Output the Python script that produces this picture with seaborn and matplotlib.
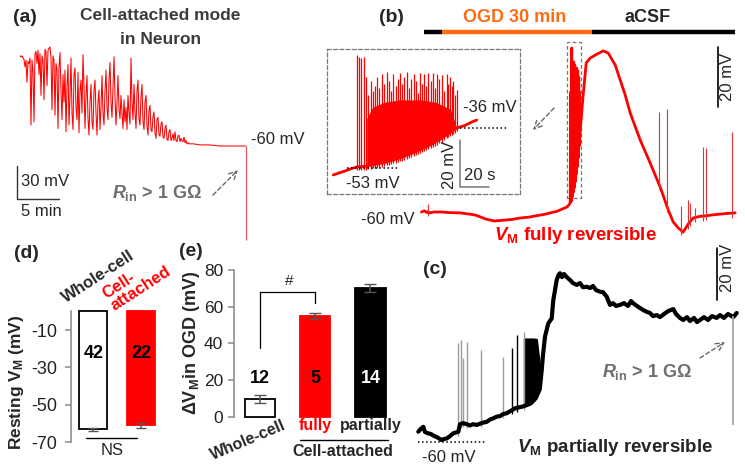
import numpy as np
import matplotlib
matplotlib.use("Agg")
import matplotlib.pyplot as plt
from matplotlib.patches import Rectangle
import seaborn as sns

# ---- panel (a): cell-attached trace, sampled every A_DT min (mV)
A_DT = 0.12
A_V = [22, 21, 22, 20, 19, 12, 18, -2, 17, 15, 20, -41, 18, 8, -38, 24, 26, 15, 27, 5,
       24, -14, 22, 18, -18, 28, 26, -5, 27, 29, 30, 20, -27, 22, 18, -32, 15, 10, -44, 12,
       25, -10, -36, 5, -20, 9, -47, -5, 14, -41, -15, 20, -30, -45, 5, 11, -25, -36, 7, -48,
       -10, 0, -30, 23, -5, -44, -15, 4, -35, -50, -20, -4, -38, -45, -10, 0, -30, -50, -20, -9,
       -45, -25, 4, -30, -41, -10, 9, -25, -36, 0, 16, -20, -34, -5, 21, -15, -41, -20, 4, -27,
       -35, -14, -30, -44, -18, -38, -25, -45, -14, -30, -40, 20, -20, -36, -4, -30, -44, -10, 0, -35,
       -41, -15, -4, -38, -45, -20, -14, -42, -50, -28, -23, -45, -47, -33, -29, -48, -53, -36, -34, -50,
       -51, -40, -38, -52, -53, -44, -41, -54, -55, -47, -45, -55, -53, -49, -55, -47, -55, -56, -51, -50,
       -56, -53, -55, -56, -52, -57, -55, -58, -57, -58]
A_TAIL_T = [20.8, 21.6, 22.8, 24.0, 25.2, 27.1]
A_TAIL_V = [-58, -59, -59, -60, -60, -60]
A_DROP = (27.1, -60, -145)

# ---- panel (b): fully reversible trace (min from OGD onset, mV)
B_T = [-4.06, -3.5, -2.9, -2.7, -2.5, -1.5, 0.0, 1.5, 3.7, 5.5, 6.7, 8.0, 8.7, 10.5, 12.7, 14.0, 15.7, 17.5,
       18.7, 20.5, 21.7, 23.0, 23.7, 25.1, 25.7, 25.8, 25.9, 26.0, 26.1, 26.2, 26.3, 26.4, 26.5, 26.6, 26.7,
       26.8, 26.9, 27.0, 27.1, 27.2, 27.3, 27.4, 27.5, 27.55, 27.6, 27.7, 28.3, 28.9, 29.7, 30.7, 31.5, 32.3,
       33.3, 34.7, 35.7, 36.7, 37.7, 39.7, 41.7, 43.7, 45.3, 46.3, 47.3, 48.3, 49.3, 50.3, 51.5, 52.7, 54.0,
       55.7, 57.0, 58.7]
B_V = [-60.0, -59.6, -60.2, -59.8, -60.3, -60.0, -60.0, -60.2, -60.3, -60.7, -61.0, -61.8, -62.3, -63.0,
       -62.7, -62.5, -62.0, -61.7, -61.3, -60.8, -60.3, -59.8, -59.3, -58.3, -57.0, -20.0, -56.5, -5.3,
       -55.0, -12.0, -53.5, -10.0, -52.0, -11.0, -50.0, -12.0, -47.5, -12.0, -45.0, -13.0, -42.0, -15.0,
       -38.0, -20.0, -35.0, -32.7, -21.0, -10.3, -8.7, -7.7, -7.0, -6.3, -7.0, -11.0, -16.0, -21.0, -27.0,
       -36.0, -43.7, -51.7, -59.3, -63.3, -65.3, -66.7, -64.0, -62.0, -61.5, -61.3, -61.0, -60.7, -60.5, -60.3]
B_SPK_T = [-2.7, 43.5, 45.1, 47.9, 49.3, 49.7, 50.6, 52.3, 52.9, 58.1]
B_SPK_TOP = [-57.3, -26.7, -25.7, -58.0, -56.0, -57.0, -58.5, -38.3, -38.7, -33.3]
BAR_START = [-3.54, 0.0, 30.0]
BAR_END = [0.0, 30.0, 58.66]
BAR_COL = ["black", "#ff6a13", "black"]

# ---- inset of (b): burst at onset (s, mV)
I_T = [0.0, 4.6, 8.0, 11.4, 16.0, 19.6, 22.8, 35.0, 45.6, 55.0, 66.0, 75.0, 84.3, 90.0, 94.7, 98.0]
I_V = [-56.1, -55.1, -54.4, -53.6, -52.7, -52.5, -52.3, -50.8, -48.8, -46.5, -43.3, -40.0, -36.0, -34.9, -33.4, -32.6]
IB_T = [22.8, 27.0, 35.0, 45.0, 60.0, 70.0, 80.0, 84.3]
IB_HI = [-32, -27, -25, -24, -24, -25, -28, -36]
IS_T = [16.3, 17.8, 19.1, 21.0, 22.5, 24.0, 25.5, 27.0, 28.3, 29.6, 31.0, 33.0, 34.5, 36.5, 38.0, 39.5,
        41.0, 42.5, 44.0, 45.6, 47.0, 48.5, 50.1, 51.5, 53.0, 55.0, 56.5, 58.0, 59.2, 60.5, 62.0, 63.5,
        64.9, 66.5, 68.0, 69.3, 70.6, 72.0, 74.0, 75.5, 77.4, 78.5, 79.7, 81.0, 82.0, 83.0, 84.3]
IS_TOP = [-4.8, -5.5, -6.2, -5.5, -14, -22, -16, -20, -18, -14, -19, -13, -17, -11.9, -16, -20,
          -13, -18, -15, -12.3, -17, -14, -11.9, -19, -15, -13, -16, -21, -12.3, -17, -13, -18,
          -12.3, -16, -12.5, -19, -12.8, -15, -13.5, -20, -12.8, -17, -14, -18, -16, -22, -19.7]

# ---- panel (c): partially reversible trace (min, mV)
C_T = [0.0, 0.44, 1.0, 1.34, 1.94, 2.54, 3.0, 3.74, 4.68, 5.14, 5.68, 6.34, 7.0, 7.54, 8.0, 8.34, 8.94, 9.68,
       10.34, 10.94, 11.68, 12.34, 12.94, 13.68, 14.34, 14.94, 15.68, 16.34, 16.94, 17.68, 18.34, 18.94, 19.34,
       19.94, 20.68, 21.5, 22.5, 23.5, 24.3,
       24.68, 24.94, 25.34, 26.0, 26.68, 27.0, 27.34, 27.68, 28.04, 28.34, 28.74, 29.14, 29.68, 30.34, 30.94,
       31.68, 32.34, 32.94, 33.68, 34.34, 34.94, 35.54, 36.34, 36.94, 37.68, 37.94, 38.34, 38.94, 39.54, 40.34,
       41.14, 41.94, 42.54, 43.0, 43.74, 44.34, 45.0, 45.74, 46.34, 46.94, 47.68, 48.34, 49.14, 49.94, 51.0,
       51.54, 52.34, 53.0, 53.74, 54.34, 55.14, 55.74, 56.34, 57.14, 57.94, 58.74, 59.68, 60.34, 61.14, 61.94,
       63.0, 63.68]
C_V = [-56.4, -55.4, -54.5, -56.5, -57.0, -57.3, -57.9, -58.5, -59.6, -59.2, -59.0, -58.1, -57.0, -56.7, -56.4,
       -53.5, -53.1, -53.5, -54.0, -53.5, -53.8, -53.3, -52.9, -52.6, -51.7, -51.3, -50.6, -50.4, -49.6, -49.3,
       -48.5, -47.9, -47.4, -47.1, -46.8, -46.3, -45.5, -43.5, -40.0,
       -32.7, -26.9, -19.8, -14.7, -12.8, -5.7, -1.9, 2.0, 3.9, 4.6, 3.1, 4.3, 3.1, 2.0, 0.8, 0.1, 0.8, -0.8,
       -0.6, -1.1, -0.3, -1.9, -2.5, -2.7, -4.4, -5.7, -7.6, -6.9, -8.0, -7.6, -6.9, -8.0, -6.1, -7.0, -8.0,
       -8.8, -9.6, -10.3, -10.7, -11.9, -11.5, -12.3, -11.1, -10.0, -9.2, -11.1, -12.6, -13.4, -12.3, -13.8,
       -12.6, -14.2, -13.4, -12.3, -13.4, -11.9, -12.6, -11.5, -12.6, -11.1, -12.3, -10.7]
CB_T = [21.0, 22.0, 23.0, 23.8, 24.4]
CB_LO = [-46.7, -46.0, -44.5, -42.0, -38.0]
CB_HI = [-20.3, -20.3, -20.3, -20.5, -30.0]
C_SPK_T = [8.0, 8.48, 8.88, 9.68, 12.54, 16.88, 21.14]
C_SPK_TOP = [-22.4, -21.1, -28.2, -21.8, -25.0, -27.5, -17.9]
C_SPK2_T = [18.68, 19.68]
C_SPK2_TOP = [-24.3, -19.2]
C_DROP = (63.0, -12.0, -53.8)

# ---- panel (d) and (e) bars
D_CATS = ["Whole-cell", "Cell-attached"]
D_MEAN = [-63.0, -61.0]
D_SEM = [0.8, 1.2]
D_N = ["42", "22"]
E_CATS = ["Whole-cell", "fully", "partially"]
E_MEAN = [9.7, 54.8, 70.2]
E_SEM = [2.4, 1.6, 2.0]
E_N = ["12", "5", "14"]

RED = "#ff0000"
ORANGE = "#ff6a13"
GRAY = "#6e6e6e"

sns.set_style("white")
plt.rcParams["font.family"] = ["Liberation Sans", "DejaVu Sans"]
plt.rcParams["axes.unicode_minus"] = False
plt.rcParams["mathtext.fontset"] = "custom"
plt.rcParams["mathtext.rm"] = "Liberation Sans:bold"
plt.rcParams["mathtext.bf"] = "Liberation Sans:bold"
plt.rcParams["mathtext.it"] = "Liberation Sans:italic:bold"

W, H = 745, 472
fig = plt.figure(figsize=(7.45, 4.72), dpi=100)


def px_axes(x0, y0, x1, y1, xlim, ylim):
    ax = fig.add_axes([x0 / W, 1 - y1 / H, (x1 - x0) / W, (y1 - y0) / H])
    ax.set_xlim(*xlim)
    ax.set_ylim(*ylim)
    ax.patch.set_alpha(0)
    return ax


def bare(ax):
    ax.set_xticks([])
    ax.set_yticks([])
    for s in ax.spines.values():
        s.set_visible(False)
    ax.set_xlabel("")
    ax.set_ylabel("")


def spikes(ax, t, top, trace_t, trace_v, color, lw):
    base = np.interp(t, trace_t, trace_v) - 1.5
    ax.vlines(t, base, top, color=color, lw=lw)


# (a)
a_t = list(np.arange(len(A_V)) * A_DT) + A_TAIL_T
a_v = A_V + A_TAIL_V
axa = px_axes(15, 40, 250, 245, (-0.6, 27.6), (-150, 36.4))
sns.lineplot(x=a_t, y=a_v, ax=axa, color=RED, linewidth=0.75, estimator=None, sort=False)
axa.vlines(A_DROP[0], A_DROP[2], A_DROP[1], color="#e05a5a", lw=0.9)
axa.plot([-0.33, -0.33, 4.67], [-78, -108.5, -108.5], color="#333", lw=1.0)
bare(axa)

# (b)
axb = px_axes(415, 0, 745, 245, (-5.34, 60.66), (-71, 10.67))
sns.lineplot(x=B_T, y=B_V, ax=axb, color=RED, linewidth=2.0, estimator=None, sort=False)
spikes(axb, B_SPK_T, B_SPK_TOP, B_T, B_V, "#e83030", 0.8)
axb.hlines([0, 0, 0], BAR_START, BAR_END, colors=BAR_COL, lw=3.2)
axb.add_patch(Rectangle((25.1, -55.3), 2.8, 52, fill=False, ls=(0, (3, 2)), ec="#777", lw=0.9))
axb.plot([55.3, 55.3], [-25, -5], color="black", lw=1.2)
bare(axb)

# inset
axi = px_axes(327, 49, 520, 194, (-4.3, 127.5), (-64.26, -2.2))
axi.fill_between(IB_T, np.interp(IB_T, I_T, I_V), IB_HI, color=RED, lw=0)
spikes(axi, IS_T, IS_TOP, I_T, I_V, RED, 0.9)
sns.lineplot(x=I_T, y=I_V, ax=axi, color=RED, linewidth=2.0, estimator=None, sort=False)
axi.plot([9.1, 44.4], [-53, -53], color="black", ls=":", lw=1.1)
axi.plot([86.5, 118.4], [-36, -36], color="black", ls=":", lw=1.1)
axi.plot([86.5, 86.5, 106.5], [-41.1, -61.1, -61.1], color="#777", lw=1.1)
bare(axi)
for s in axi.spines.values():
    s.set_visible(True)
    s.set_linestyle((0, (3, 2)))
    s.set_edgecolor("#777")
    s.set_linewidth(0.9)

# (c)
axc = px_axes(410, 245, 745, 472, (-1.66, 65.34), (-71.9, 15.46))
spikes(axc, C_SPK_T, C_SPK_TOP, C_T, C_V, "#9a9a9a", 1.0)
axc.fill_between(CB_T, CB_LO, CB_HI, color="black", lw=0)
sns.lineplot(x=C_T, y=C_V, ax=axc, color="black", linewidth=3.0, estimator=None, sort=False)
spikes(axc, C_SPK2_T, C_SPK2_TOP, C_T, C_V, "black", 1.0)
axc.vlines(C_DROP[0], C_DROP[2], C_DROP[1], color="#a8a8a8", lw=1.3)
axc.plot([0, 13.3], [-60.5, -60.5], color="black", ls=":", lw=1.1)
axc.plot([59.7, 59.7], [-5.7, 14.2], color="black", lw=1.2)
bare(axc)

# (d)
axd = px_axes(71, 311.3, 165, 442.3, (-0.466, 1.5), (-70, 0))
sns.barplot(x=D_CATS, y=D_MEAN, hue=D_CATS, palette=["white", RED], legend=False,
            width=0.58, ax=axd, errorbar=None, saturation=1)
for p, ec in zip(axd.patches, ["black", RED]):
    p.set_edgecolor(ec)
    p.set_linewidth(1.3)
    p.set_clip_on(False)
axd.errorbar(range(2), D_MEAN, yerr=D_SEM, fmt="none", ecolor="#555", capsize=3.5, lw=1.1, clip_on=False)
for i, n in enumerate(D_N):
    axd.text(i, -22.3, n, ha="center", va="center", fontsize=13, fontweight="bold", color="black")
axd.plot([-0.15, 0.92], [-67.9, -67.9], color="black", lw=1.0, clip_on=False)
axd.text(0.40, -74.2, "NS", ha="center", va="center", fontsize=12, clip_on=False)
axd.set_ylim(-70, 0)
axd.set_xlim(-0.466, 1.5)
axd.set_yticks([-10, -30, -50, -70])
axd.set_xticks([])
axd.set_xlabel("")
axd.set_ylabel("")
for k in ["top", "right", "bottom"]:
    axd.spines[k].set_visible(False)
axd.spines["left"].set_color("#8c8c8c")
axd.spines["left"].set_linewidth(1.2)
axd.tick_params(axis="y", left=True, length=4, width=1.1, color="#8c8c8c", labelsize=13,
                labelcolor="#222", pad=6)

# (e)
axe = px_axes(234.3, 270, 398, 416.7, (-0.47, 2.5), (0, 80))
sns.barplot(x=E_CATS, y=E_MEAN, hue=E_CATS, palette=["white", RED, "black"], legend=False,
            width=0.55, ax=axe, errorbar=None, saturation=1)
for p, ec in zip(axe.patches, ["black", RED, "black"]):
    p.set_edgecolor(ec)
    p.set_linewidth(1.3)
    p.set_clip_on(False)
axe.errorbar(range(3), E_MEAN, yerr=E_SEM, fmt="none", ecolor="#555", capsize=4, lw=1.1, clip_on=False)
for i, (n, c) in enumerate(zip(E_N, ["black", "black", "white"])):
    axe.text(i, 21.1, n, ha="center", va="center", fontsize=13, fontweight="bold", color=c)
axe.plot([0, 0, 1, 1], [37.3, 68.2, 68.2, 61.9], color="black", lw=0.9, clip_on=False)
axe.text(0.53, 73.8, "#", ha="center", va="center", fontsize=11, clip_on=False)
axe.text(-0.22, -12.8, "Whole-cell", ha="center", va="center", rotation=23, fontsize=11.5,
         fontweight="bold", clip_on=False)
axe.text(1, -4.6, "fully", ha="center", va="center", fontsize=11.5, fontweight="bold", color=RED, clip_on=False)
axe.text(2, -4.6, "partially", ha="center", va="center", fontsize=11.5, fontweight="bold", clip_on=False)
axe.plot([0.72, 2.31], [-12.7, -12.7], color="black", lw=1.0, clip_on=False)
axe.text(1.5, -19.2, "Cell-attached", ha="center", va="center", fontsize=11.5, fontweight="bold", clip_on=False)
axe.set_ylim(0, 80)
axe.set_xlim(-0.47, 2.5)
axe.set_yticks([0, 20, 40, 60, 80])
axe.set_xticks([])
axe.set_xlabel("")
axe.set_ylabel("")
for k in ["top", "right", "bottom"]:
    axe.spines[k].set_visible(False)
axe.spines["left"].set_color("#8c8c8c")
axe.spines["left"].set_linewidth(1.2)
axe.tick_params(axis="y", left=True, length=4, width=1.1, color="#8c8c8c", labelsize=12.5,
                labelcolor="#222", pad=4)

# overlay for labels and arrows (pixel coordinates)
ov = fig.add_axes([0, 0, 1, 1])
ov.set_xlim(0, W)
ov.set_ylim(H, 0)
ov.axis("off")
ov.patch.set_alpha(0)
ov.set_zorder(10)


def t(x, y, s, **kw):
    kw.setdefault("ha", "center")
    kw.setdefault("va", "center")
    kw.setdefault("fontsize", 12)
    ov.text(x, y, s, **kw)


def arrow(x0, y0, x1, y1):
    ov.annotate("", xy=(x1, y1), xytext=(x0, y0),
                arrowprops=dict(arrowstyle="->", ls=(0, (3, 2)), color="#666", lw=1.0,
                                mutation_scale=14, shrinkA=0, shrinkB=0))


for lab, x, y in [("(a)", 25, 17), ("(b)", 391, 17), ("(c)", 435, 270), ("(d)", 26, 254), ("(e)", 191, 252)]:
    t(x, y, lab, fontsize=14, fontweight="bold")

t(160.5, 16, "Cell-attached mode", fontsize=12.5, fontweight="bold", color="#3c3c3c")
t(160.5, 39, "in Neuron", fontsize=12.5, fontweight="bold", color="#3c3c3c")
t(251, 139, "-60 mV", ha="left")
t(21, 182, "30 mV", ha="left")
t(21, 211, "5 min", ha="left")
t(157, 193, r"$R_\mathrm{in}$ > 1 GΩ", fontsize=13, fontweight="bold", color=GRAY)
arrow(213, 195, 238, 170)

t(515, 17, "OGD 30 min", fontsize=13, fontweight="bold", color=ORANGE)
t(648, 17, "aCSF", fontsize=13, fontweight="bold")
t(415, 219, "-60 mV", ha="right")
t(575, 236, r"$V_\mathrm{M}$ fully reversible", fontsize=13.5, fontweight="bold", color=RED)
t(728, 77, "20 mV", rotation=90)
arrow(554, 108, 533, 130)
t(373, 183, "-53 mV")
t(490, 108, "-36 mV")
t(450, 165, "20 mV", rotation=90)
t(480, 176, "20 s")

t(728, 268, "20 mV", rotation=90)
t(647, 372, r"$R_\mathrm{in}$ > 1 GΩ", fontsize=13, fontweight="bold", color=GRAY)
arrow(700, 358, 725, 342)
t(615, 448, r"$V_\mathrm{M}$ partially reversible", fontsize=13.5, fontweight="bold")
t(449, 457, "-60 mV")

t(17, 382, r"Resting V$_\mathrm{M}$ (mV)", rotation=90, fontsize=12.5, fontweight="bold")
t(191, 343, r"ΔV$_\mathrm{M}$in OGD (mV)", rotation=90, fontsize=13, fontweight="bold")
t(98, 277, "Whole-cell", rotation=33, rotation_mode="anchor", fontweight="bold")
t(137, 283, "Cell-\nattached", rotation=33, rotation_mode="anchor", fontweight="bold", color=RED,
  multialignment="left", linespacing=0.95)

fig.savefig("out.png", dpi=100)
